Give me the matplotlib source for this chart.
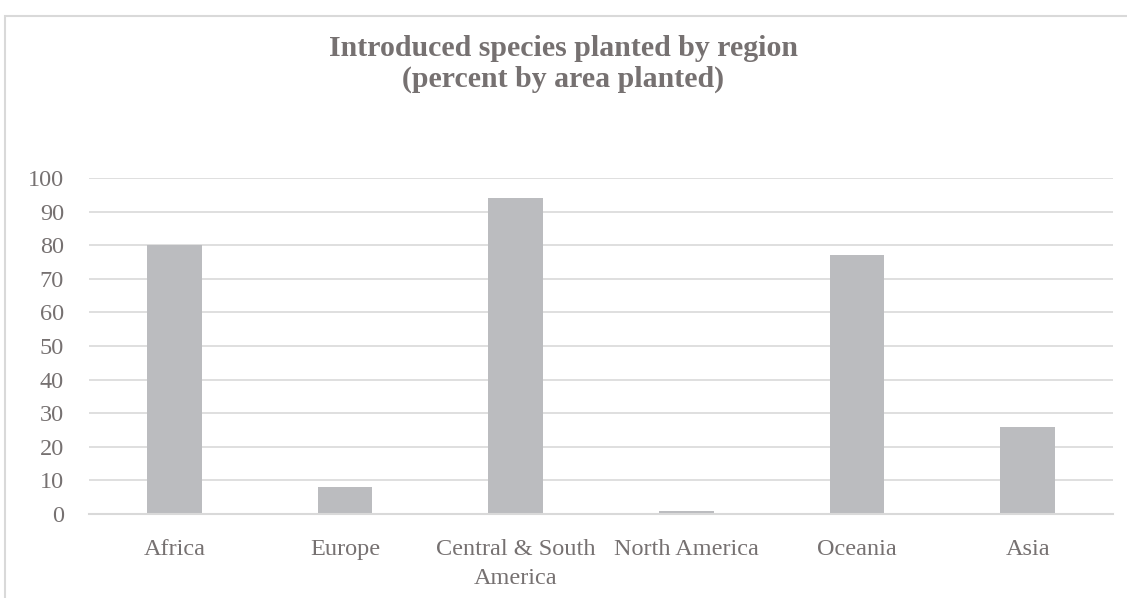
import matplotlib.pyplot as plt
from matplotlib.patches import Rectangle

regions = ["Africa", "Europe", "Central & South\nAmerica", "North America", "Oceania", "Asia"]
percent_planted = [80, 8, 94, 1, 77, 26]
y_ticks = [0, 10, 20, 30, 40, 50, 60, 70, 80, 90, 100]

text_color = "#767171"
bar_color = "#BBBCBF"
grid_color = "#D9D9D9"

plt.rcParams["font.family"] = ["Liberation Serif", "DejaVu Serif"]

W, H = 1127, 598
fig = plt.figure(figsize=(W / 100, H / 100), dpi=100)

# chart frame (cut off at right and bottom like the source)
fig.patches.append(Rectangle((5 / W, -0.1), 1.2, 1 - 16 / H + 0.1, transform=fig.transFigure,
                             fill=False, edgecolor=grid_color, linewidth=1.5))

ax = fig.add_axes([89 / W, 1 - 514 / H, (1113 - 89) / W, (514 - 178) / H])
x = range(len(regions))
ax.bar(x, percent_planted, width=0.32, color=bar_color, zorder=2)

ax.set_xlim(-0.5, len(regions) - 0.5)
ax.set_ylim(0, 100)
ax.set_yticks(y_ticks)
ax.set_xticks(list(x))
ax.set_xticklabels(regions, fontsize=17.5, color=text_color, linespacing=1.5)
ax.tick_params(axis="y", labelsize=17.5, labelcolor=text_color, length=0, pad=18)
ax.tick_params(axis="x", length=0, pad=18)
for lbl in ax.get_yticklabels():
    lbl.set_horizontalalignment("right")

ax.grid(axis="y", color=grid_color, linewidth=1.2, zorder=0)
for side in ["top", "right", "left"]:
    ax.spines[side].set_visible(False)
ax.spines["bottom"].set_color(grid_color)
ax.spines["bottom"].set_linewidth(1.5)
ax.spines["bottom"].set_zorder(3)

fig.text(0.5, 1 - 64 / H, "Introduced species planted by region\n(percent by area planted)",
         ha="center", va="center", fontsize=21.5, fontweight="bold", color=text_color,
         linespacing=1.15)

fig.savefig("out.png", dpi=100, facecolor="white")
